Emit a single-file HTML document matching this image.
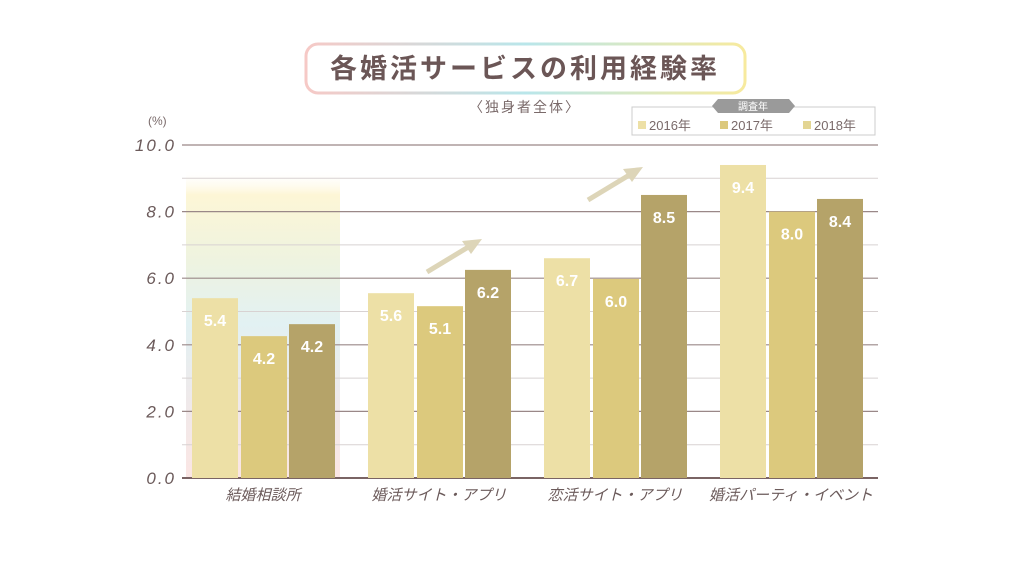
<!DOCTYPE html>
<html><head><meta charset="utf-8"><style>
body{margin:0;background:#fff;}
svg{display:block;font-family:"Liberation Sans","Noto Sans CJK JP",sans-serif;}
</style></head><body>
<svg width="1024" height="576" viewBox="0 0 1024 576">
<defs>
<linearGradient id="tb" x1="0" x2="1"><stop offset="0" stop-color="#f6c9c6"/><stop offset="0.5" stop-color="#b9e6ea"/><stop offset="1" stop-color="#f7ea9e"/></linearGradient>
<linearGradient id="hl" x1="0" y1="0" x2="0" y2="1"><stop offset="0" stop-color="#fff" stop-opacity="0"/><stop offset="0.08" stop-color="#fdf6d6"/><stop offset="0.3" stop-color="#eef3e0"/><stop offset="0.5" stop-color="#e2f1f3"/><stop offset="0.75" stop-color="#efe9ea"/><stop offset="1" stop-color="#fbe6e4"/></linearGradient>
</defs>
<rect x="306" y="44" width="439" height="49" rx="12" fill="#fff" stroke="url(#tb)" stroke-width="3"/>
<text x="525" y="78" text-anchor="middle" font-size="27" font-weight="bold" fill="#6b5656" letter-spacing="3">各婚活サービスの利用経験率</text>
<text x="525" y="112" text-anchor="middle" font-size="14" fill="#7a6a6a" letter-spacing="2">〈独身者全体〉</text>
<g>
<rect x="632" y="107" width="243" height="28" fill="#fff" stroke="#ccc"/>
<polygon points="712,106 718,99 789,99 795,106 789,113 718,113" fill="#9a9a9a"/>
<text x="753" y="110" text-anchor="middle" font-size="10" fill="#fff">調査年</text>
<rect x="638" y="121" width="8" height="8" fill="#ede0a6"/><text x="649" y="130" font-size="13" fill="#7a6a6a">2016年</text>
<rect x="720" y="121" width="8" height="8" fill="#dcc97d"/><text x="731" y="130" font-size="13" fill="#7a6a6a">2017年</text>
<rect x="803" y="121" width="8" height="8" fill="#e3d593"/><text x="814" y="130" font-size="13" fill="#7a6a6a">2018年</text>
</g>
<text x="148" y="125" font-size="12" fill="#7a6a6a">(%)</text>
<rect x="186" y="170" width="154" height="308" fill="url(#hl)"/>
<g id="grid"></g><g id="bars"></g><g id="labels"></g>
<g stroke="#ddd5b8" stroke-width="5" fill="#ddd5b8">
<line x1="427" y1="272" x2="470" y2="246"/><polygon points="482,239 462,241 471,254" stroke="none"/>
<line x1="588" y1="200" x2="631" y2="174"/><polygon points="643,167 623,169 632,182" stroke="none"/>
</g>
</svg>
<script>
const categories=["結婚相談所","婚活サイト・アプリ","恋活サイト・アプリ","婚活パーティ・イベント"];
const v2016=[5.4,5.55,6.6,9.4];
const v2017=[4.26,5.16,5.98,8.0];
const v2018=[4.62,6.25,8.5,8.38];
const l2016=["5.4","5.6","6.7","9.4"];
const l2017=["4.2","5.1","6.0","8.0"];
const l2018=["4.2","6.2","8.5","8.4"];
const yTicks=["0.0","2.0","4.0","6.0","8.0","10.0"];
const NS="http://www.w3.org/2000/svg";
const y0=478,pxu=33.3,x0=175,band=176;
const y=v=>y0-v*pxu;
function mk(t,a,p){const e=document.createElementNS(NS,t);for(const k in a)e.setAttribute(k,a[k]);p.appendChild(e);return e;}
const grid=document.getElementById('grid'),bars=document.getElementById('bars'),labels=document.getElementById('labels');
for(let i=1;i<10;i+=2){const g=mk('line',{x1:182,x2:878,y1:y(i),y2:y(i),stroke:'#d8d2d2','stroke-width':1},grid);

}
yTicks.forEach(t=>{const v=parseFloat(t);
const l=mk('line',{x1:182,x2:878,y1:y(v),y2:y(v),stroke:v===0?'#7a6464':'#9a8888','stroke-width':v===0?2:1.2},grid);


const tx=mk('text',{x:176,y:y(v)+6,'text-anchor':'end','font-size':17,'font-style':'italic',fill:'#6b5a5a','letter-spacing':2},labels);
tx.textContent=t;

});
const series=[[v2016,l2016,'#ede0a6',17],[v2017,l2017,'#dcc97d',66],[v2018,l2018,'#b5a369',114]];
categories.forEach((c,i)=>{
series.forEach(([vals,labs,col,off],s)=>{
const bx=x0+i*band+off;
const r=mk('rect',{x:bx,y:y(vals[i]),width:46,height:y0-y(vals[i]),fill:col},bars);


const t=mk('text',{x:bx+23,y:y(vals[i])+28,'text-anchor':'middle','font-size':16,'font-weight':'bold',fill:'#fff'},labels);
t.textContent=labs[i];

});
const ct=mk('text',{x:x0+i*band+88,y:500,'text-anchor':'middle','font-size':15,'font-style':'italic',fill:'#6b5a5a'},labels);
ct.textContent=c;

});
</script>
</body></html>
